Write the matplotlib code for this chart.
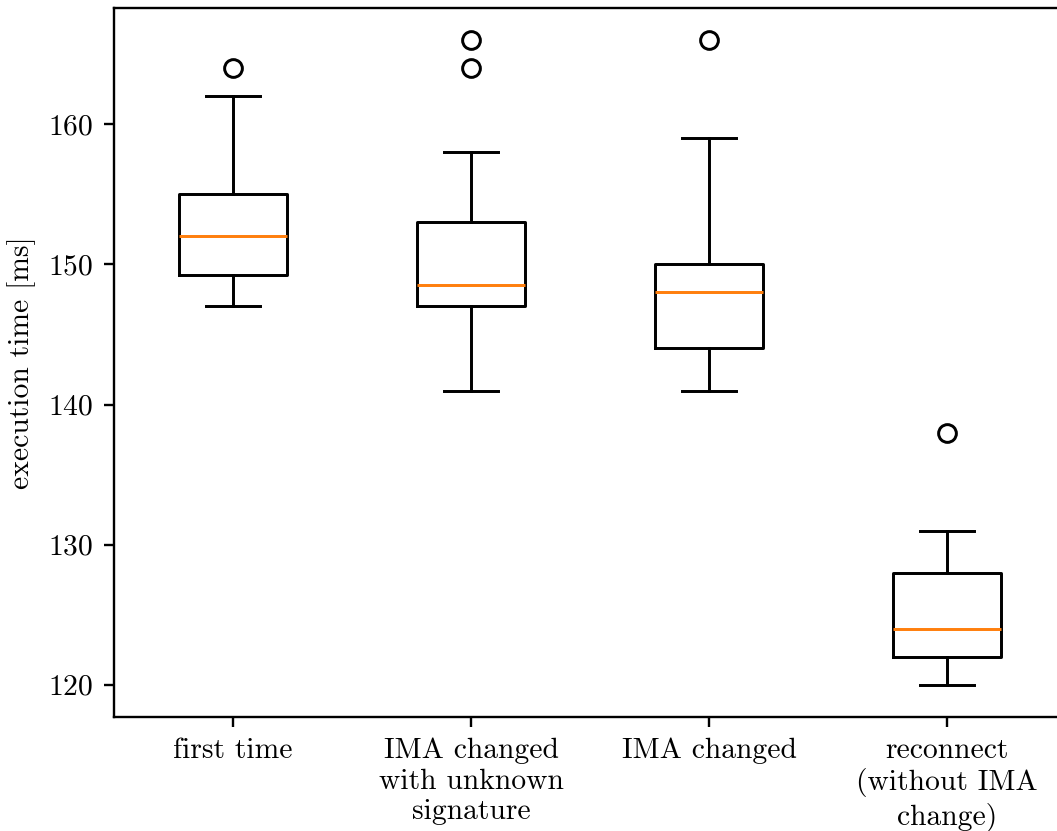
import matplotlib
matplotlib.use('Agg')
import matplotlib.pyplot as plt

plt.rcParams['font.family'] = ['cmr10', 'DejaVu Serif']
plt.rcParams['axes.formatter.use_mathtext'] = True
plt.rcParams['font.size'] = 10

labels = ['first time', 'IMA changed\nwith unknown\nsignature', 'IMA changed',
          'reconnect\n(without IMA\nchange)']
whislo = [147, 141, 141, 120]
q1 = [149.25, 147, 144, 122]
med = [152, 148.5, 148, 124]
q3 = [155, 153, 150, 128]
whishi = [162, 158, 159, 131]
fliers = [[164], [164, 166], [166], [138]]

stats = []
for i in range(len(labels)):
    stats.append({'label': labels[i], 'whislo': whislo[i], 'q1': q1[i], 'med': med[i],
                  'q3': q3[i], 'whishi': whishi[i], 'fliers': fliers[i]})

dpi = 213
fig = plt.figure(figsize=(1057 / dpi, 831 / dpi), dpi=dpi)
# right spine falls just outside the cropped picture
ax = fig.add_axes([114 / 1057, 1 - 717 / 831, (1066 - 114) / 1057, (717 - 8) / 831])
ax.bxp(stats, widths=0.45)
ax.set_ylim(117.7, 168.3)
ax.set_yticks([120, 130, 140, 150, 160])
ax.set_ylabel('execution time [ms]')

fig.savefig('out.png', dpi=dpi)
